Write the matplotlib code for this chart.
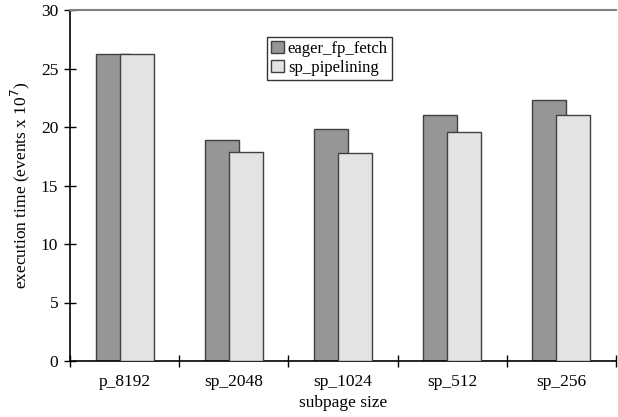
import matplotlib
matplotlib.use("Agg")
import matplotlib.pyplot as plt
import numpy as np

categories = ["p_8192", "sp_2048", "sp_1024", "sp_512", "sp_256"]
eager_fp_fetch = [26.2, 18.9, 19.8, 21.05, 22.3]
sp_pipelining = [26.2, 17.85, 17.8, 19.6, 21.05]

plt.rcParams["font.family"] = ["Liberation Serif", "DejaVu Serif"]
plt.rcParams["font.size"] = 12.5

fig = plt.figure(figsize=(6.18, 4.17), dpi=100)
ax = fig.add_axes([70 / 618, 56 / 417, 546 / 618, 351 / 417])

x = np.arange(len(categories))
w = 0.31
d = 0.22
ax.bar(x - d / 2, eager_fp_fetch, w, color="#969696", edgecolor="#404040",
       linewidth=1.0, label="eager_fp_fetch", zorder=2)
ax.bar(x + d / 2, sp_pipelining, w, color="#e3e3e3", edgecolor="#404040",
       linewidth=1.0, label="sp_pipelining", zorder=3)

ax.set_xlim(-0.5, len(categories) - 0.5)
ax.set_ylim(0, 30)
ax.set_yticks(range(0, 31, 5))
ax.set_xticks(x)
ax.set_xticklabels(categories)
ax.set_xticks(np.arange(-0.5, len(categories), 1.0), minor=True)
ax.tick_params(axis="x", which="major", length=0, pad=9)
ax.tick_params(axis="x", which="minor", direction="inout", length=9, width=1)
ax.tick_params(axis="y", direction="inout", length=9, width=1, pad=4)

for s in ["left", "bottom"]:
    ax.spines[s].set_color("black")
    ax.spines[s].set_linewidth(1.2)
ax.spines["top"].set_color("#808080")
ax.spines["top"].set_linewidth(1.5)
ax.spines["right"].set_visible(False)

ax.set_xlabel("subpage size", labelpad=4)
ax.set_ylabel("execution time (events x 10$^7$)", labelpad=6)

leg = ax.legend(loc="upper left", bbox_to_anchor=(197 / 546, 0.923),
                frameon=True, fancybox=False, fontsize=12,
                handlelength=0.75, handleheight=0.75,
                handletextpad=0.25, borderpad=0.25, labelspacing=0.15,
                borderaxespad=0)
leg.get_frame().set_edgecolor("black")
leg.get_frame().set_linewidth(1.0)

fig.savefig("out.png", dpi=100)
